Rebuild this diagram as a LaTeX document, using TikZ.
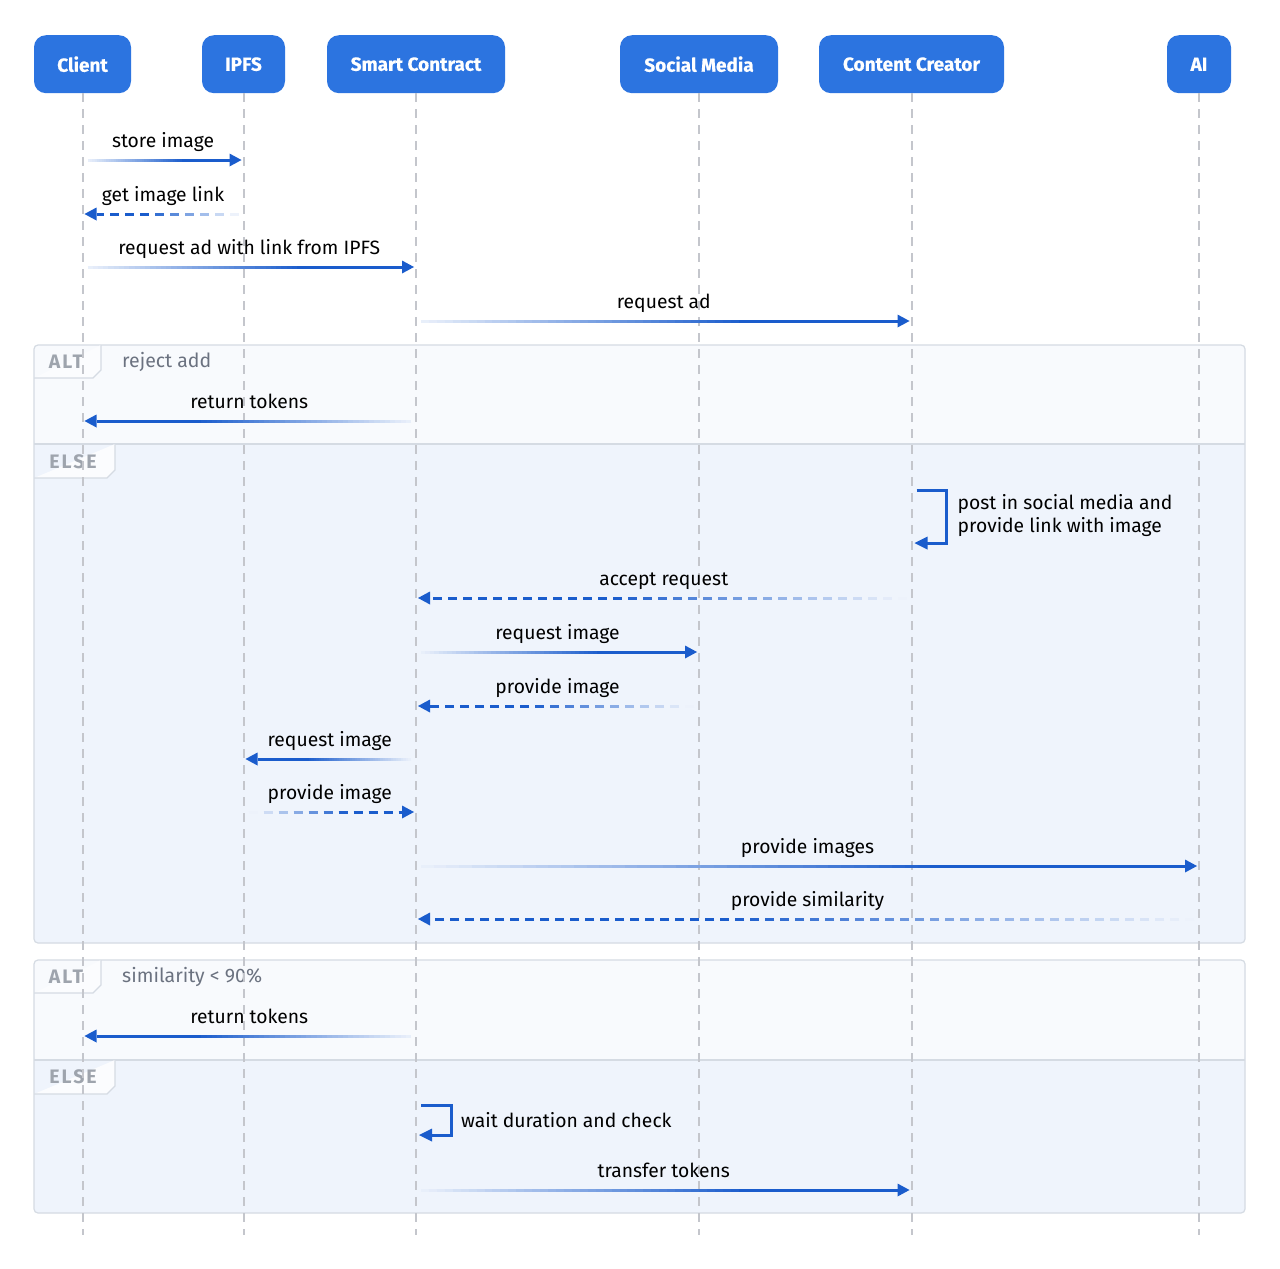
\documentclass[tikz,border=0pt]{standalone}
\usepackage{fontspec}
\setmainfont{Fira Sans}
\usetikzlibrary{calc}
\definecolor{hdr}{HTML}{2C74E0}
\definecolor{arr}{HTML}{1A5CCC}
\definecolor{life}{HTML}{C4C6CC}
\definecolor{frm}{HTML}{D5DBE3}
\definecolor{altbg}{HTML}{F8FAFD}
\definecolor{elsebg}{HTML}{EFF4FC}
\definecolor{tabbg}{HTML}{FBFCFE}
\definecolor{tabtxt}{HTML}{9EA4AD}
\definecolor{condtxt}{HTML}{6B7280}
\tikzset{
  actor/.style={fill=hdr, rounded corners=12pt, text=white,
    font=\fontsize{19}{22}\selectfont\bfseries\addfontfeatures{FakeBold=0.5},
    minimum height=58pt, inner xsep=0pt, anchor=north},
  lifeline/.style={draw=life, line width=2pt, dash pattern=on 9pt off 7pt},
  lbl/.style={font=\fontsize{19.3}{22}\selectfont, text=black, anchor=base, inner sep=0pt},
  tabtext/.style={font=\fontsize{19.5}{22}\selectfont\bfseries\addfontfeatures{LetterSpace=10}, text=tabtxt, inner sep=0pt},
  condtext/.style={font=\fontsize{19.5}{22}\selectfont, text=condtxt, anchor=west, inner sep=0pt},
  frameline/.style={draw=frm, line width=1.2pt},
  selfarrow/.style={draw=arr, line width=3pt},
}
% gradient message: #1 from node, #2 to node, #3 y, #4 label, #5 dash flag (0 solid, 1 dashed)
\newcommand\gmsg[5]{%
  \coordinate (gs) at (#1.south |- 0,#3);
  \coordinate (ge) at (#2.south |- 0,#3);
  \coordinate (gt) at ($(ge)!2pt!(gs)$);
  \coordinate (gb) at ($(ge)!14pt!(gs)$);
  \coordinate (g0) at ($(gs)!5pt!(ge)$);
  \path let \p1=(g0), \p2=(gb) in \pgfextra{\pgfmathsetmacro\glen{abs(\x2-\x1)}\xdef\glen{\glen}};
  \ifnum#5=0
    \foreach \i in {0,...,59}{%
      \pgfmathsetmacro\ta{\i/60}%
      \pgfmathsetmacro\tb{min(1,(\i+1.4)/60)}%
      \pgfmathtruncatemacro\pc{min(100,10+90*\i/40)}%
      \draw[line width=3pt, color=arr!\pc!white] ($(g0)!\ta!(gb)$) -- ($(g0)!\tb!(gb)$);
    }%
  \else
    \pgfmathtruncatemacro\gn{\glen/15}%
    \foreach \k in {0,...,\gn}{%
      \pgfmathsetmacro\da{\k*15}%
      \pgfmathsetmacro\db{min(\glen,\k*15+9)}%
      \pgfmathtruncatemacro\pc{min(100,8+92*(\k*15/\glen)/0.6)}%
      \draw[line width=3pt, color=arr!\pc!white] ($(g0)!\da pt!(gb)$) -- ($(g0)!\db pt!(gb)$);
    }%
  \fi
  \fill[arr] (gt) -- ($(gb)!6.5pt!90:(gt)$) -- ($(gb)!6.5pt!-90:(gt)$) -- cycle;
  \node[lbl] at ($(gs)!0.5!(ge)+(0,-13)$) {#4};
}
\begin{document}
\begin{tikzpicture}[x=1pt,y=-1pt]
\useasboundingbox (0,0) rectangle (1280,1269);
\fill[white] (0,0) rectangle (1280,1269);

% frames
\begin{scope}
\fill[elsebg, rounded corners=4pt] (34,345) rectangle (1245,943);
\fill[altbg, rounded corners=4pt] (34,345) -- (1245,345) -- (1245,444) -- (34,444) -- cycle;
\draw[frameline, rounded corners=4pt] (34,345) rectangle (1245,943);
\draw[frameline] (34,444) -- (1245,444);
\fill[elsebg, rounded corners=4pt] (34,960) rectangle (1245,1213);
\fill[altbg, rounded corners=4pt] (34,960) -- (1245,960) -- (1245,1060) -- (34,1060) -- cycle;
\draw[frameline, rounded corners=4pt] (34,960) rectangle (1245,1213);
\draw[frameline] (34,1060) -- (1245,1060);
% tabs
\filldraw[frameline, fill=tabbg] (34,378) -- (93,378) -- (101,370) -- (101,345);
\filldraw[frameline, fill=tabbg] (34,478) -- (107,478) -- (115,470) -- (115,444);
\filldraw[frameline, fill=tabbg] (34,993) -- (93,993) -- (101,985) -- (101,960);
\filldraw[frameline, fill=tabbg] (34,1094) -- (107,1094) -- (115,1086) -- (115,1060);
\end{scope}
\node[tabtext] (t1) at (66,362) {ALT};
\node[tabtext] (t2) at (73,462) {ELSE};
\node[tabtext] (t3) at (66,977) {ALT};
\node[tabtext] (t4) at (73,1077) {ELSE};
\node[condtext] (c1) at (122,362) {reject add};
\node[condtext] (c2) at (122,977) {similarity < 90\%};

% actors
\node[actor, minimum width=97pt]  (hC)  at (82.5,35) {Client};
\node[actor, minimum width=83pt]  (hI)  at (243.5,35) {IPFS};
\node[actor, minimum width=178pt] (hS)  at (416,35) {Smart Contract};
\node[actor, minimum width=158pt] (hM)  at (699,35) {Social Media};
\node[actor, minimum width=185pt] (hCC) at (911.5,35) {Content Creator};
\node[actor, minimum width=64pt]  (hA)  at (1199,35) {AI};
\foreach \n in {hC,hI,hS,hM,hCC,hA}{
  \coordinate (\n-end) at (\n.south |- 0,1235);
  \draw[lifeline] (\n.south) -- (\n-end);
}

% messages
\gmsg{hC}{hI}{160}{store image}{0}
\gmsg{hI}{hC}{214}{get image link}{1}
\gmsg{hC}{hS}{267}{request ad with link from IPFS}{0}
\gmsg{hS}{hCC}{321}{request ad}{0}
\gmsg{hS}{hC}{421}{return tokens}{0}

% self message on content creator
\coordinate (s1a) at ($(hCC.south |- 0,490)+(5,0)$);
\coordinate (s1b) at ($(hCC.south |- 0,490)+(35,0)$);
\coordinate (s1c) at ($(hCC.south |- 0,543)+(35,0)$);
\coordinate (s1t) at ($(hCC.south |- 0,543)+(3,0)$);
\draw[selfarrow] (s1a) -- (s1b) -- (s1c) -- ($(s1t)+(11,0)$);
\fill[arr] (s1t) -- ($(s1t)+(13,-6.5)$) -- ($(s1t)+(13,6.5)$) -- cycle;
\node[font=\fontsize{19.3}{23}\selectfont, align=left, anchor=west, inner sep=0pt] (s1l) at ($(hCC.south |- 0,516)+(46,0)$) {post in social media and\\provide link with image};

\gmsg{hCC}{hS}{598}{accept request}{1}
\gmsg{hS}{hM}{652}{request image}{0}
\gmsg{hM}{hS}{706}{provide image}{1}
\gmsg{hS}{hI}{759}{request image}{0}
\gmsg{hI}{hS}{812}{provide image}{1}
\gmsg{hS}{hA}{866}{provide images}{0}
\gmsg{hA}{hS}{919}{provide similarity}{1}

\gmsg{hS}{hC}{1036}{return tokens}{0}

% self message on smart contract
\coordinate (s2a) at ($(hS.south |- 0,1105)+(5,0)$);
\coordinate (s2b) at ($(hS.south |- 0,1105)+(35,0)$);
\coordinate (s2c) at ($(hS.south |- 0,1135)+(35,0)$);
\coordinate (s2t) at ($(hS.south |- 0,1135)+(3,0)$);
\draw[selfarrow] (s2a) -- (s2b) -- (s2c) -- ($(s2t)+(11,0)$);
\fill[arr] (s2t) -- ($(s2t)+(13,-6.5)$) -- ($(s2t)+(13,6.5)$) -- cycle;
\node[font=\fontsize{19.3}{23}\selectfont, anchor=west, inner sep=0pt] (s2l) at ($(hS.south |- 0,1120)+(45,0)$) {wait duration and check};

\gmsg{hS}{hCC}{1190}{transfer tokens}{0}
\end{tikzpicture}
\end{document}
